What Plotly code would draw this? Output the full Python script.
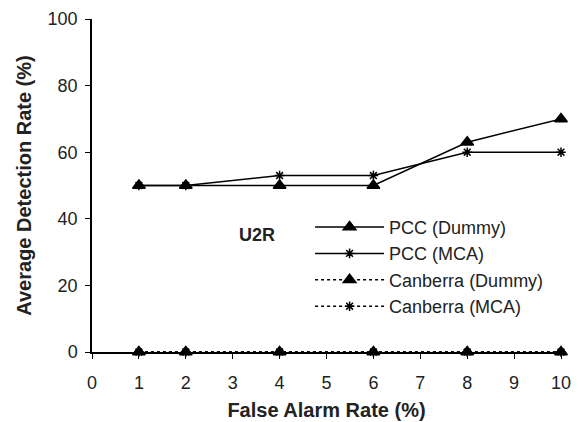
import plotly.graph_objects as go

x_vals = [1, 2, 4, 6, 8, 10]
pcc_dummy = [50, 50, 50, 50, 63, 70]
pcc_mca = [50, 50, 53, 53, 60, 60]
canberra_dummy = [0, 0, 0, 0, 0, 0]
canberra_mca = [0, 0, 0, 0, 0, 0]
x_ticks = list(range(0, 11))
y_ticks = [0, 20, 40, 60, 80, 100]

FONT = "Liberation Sans, Arial, sans-serif"

fig = go.Figure()
series = [
    ("PCC (Dummy)", pcc_dummy, "solid", "triangle-up", 11),
    ("PCC (MCA)", pcc_mca, "solid", "asterisk-open", 8),
    ("Canberra (Dummy)", canberra_dummy, "dot", "triangle-up", 11),
    ("Canberra (MCA)", canberra_mca, "dot", "asterisk-open", 8),
]
for name, ys, dash, sym, sz in series:
    fig.add_trace(go.Scatter(
        x=x_vals, y=ys, name=name, mode="lines+markers",
        line=dict(color="black", width=1.5, dash=dash),
        marker=dict(symbol=sym, size=sz, color="black",
                    line=dict(color="black", width=1.5)),
        cliponaxis=False,
    ))

fig.add_annotation(x=3.52, y=35, text="<b>U2R</b>", showarrow=False,
                   font=dict(family=FONT, size=18, color="#222"))

fig.update_layout(
    width=579, height=422,
    margin=dict(l=92, r=18, t=19, b=70),
    paper_bgcolor="white", plot_bgcolor="white",
    font=dict(family=FONT, size=18, color="#222"),
    showlegend=True,
    legend=dict(x=0.465, y=0.43, xanchor="left", yanchor="top",
                bgcolor="rgba(0,0,0,0)", font=dict(size=18, color="#222"),
                itemwidth=69, tracegroupgap=0),
    xaxis=dict(range=[0, 10], tickvals=x_ticks, showgrid=False, zeroline=False,
               showline=True, linecolor="black", linewidth=1.5,
               ticks="outside", ticklen=5, tickcolor="black",
               ticklabelstandoff=9, automargin=False,
               title=dict(text="<b>False Alarm Rate (%)</b>", font=dict(size=20), standoff=11)),
    yaxis=dict(range=[0, 100], tickvals=y_ticks, showgrid=False, zeroline=False,
               showline=True, linecolor="black", linewidth=1.5,
               ticks="outside", ticklen=5, tickcolor="black",
               ticklabelstandoff=4, automargin=False,
               title=dict(text="<b>Average Detection Rate (%)</b>", font=dict(size=20), standoff=11)),
)

fig.write_html("out.html")
